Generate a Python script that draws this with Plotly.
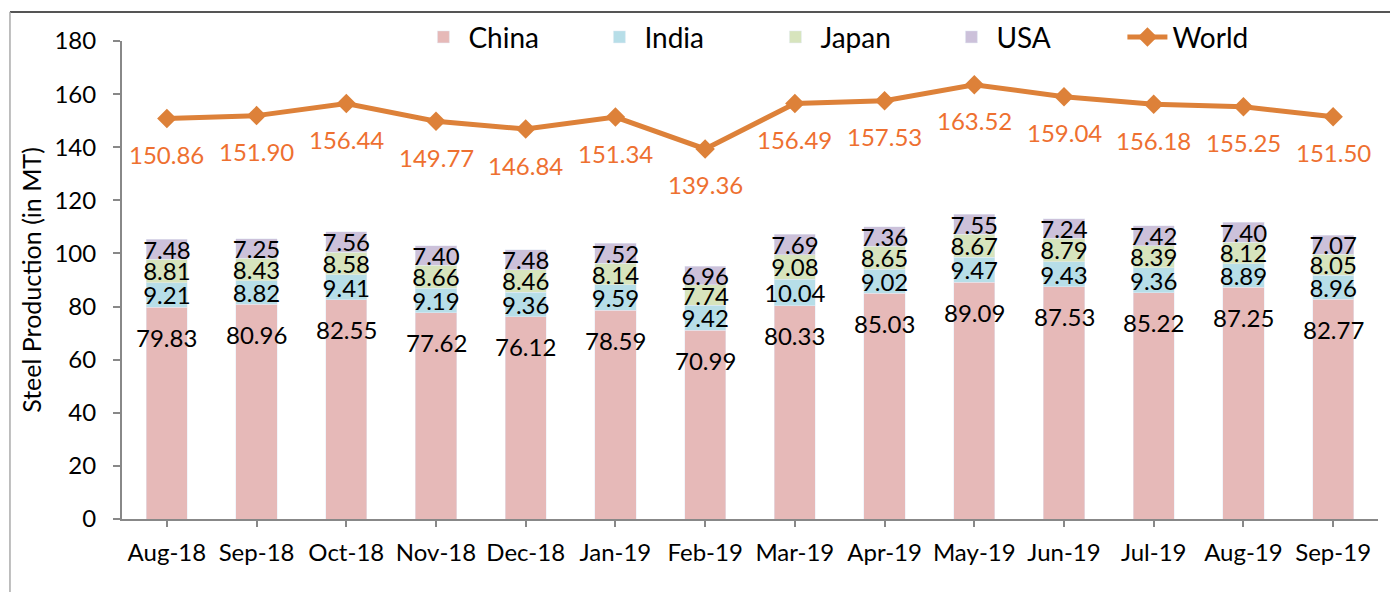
import plotly.graph_objects as go

# --- data ---
months = ["Aug-18", "Sep-18", "Oct-18", "Nov-18", "Dec-18", "Jan-19", "Feb-19",
          "Mar-19", "Apr-19", "May-19", "Jun-19", "Jul-19", "Aug-19", "Sep-19"]
china = [79.83, 80.96, 82.55, 77.62, 76.12, 78.59, 70.99, 80.33, 85.03, 89.09, 87.53, 85.22, 87.25, 82.77]
india = [9.21, 8.82, 9.41, 9.19, 9.36, 9.59, 9.42, 10.04, 9.02, 9.47, 9.43, 9.36, 8.89, 8.96]
japan = [8.81, 8.43, 8.58, 8.66, 8.46, 8.14, 7.74, 9.08, 8.65, 8.67, 8.79, 8.39, 8.12, 8.05]
usa = [7.48, 7.25, 7.56, 7.40, 7.48, 7.52, 6.96, 7.69, 7.36, 7.55, 7.24, 7.42, 7.40, 7.07]
world = [150.86, 151.90, 156.44, 149.77, 146.84, 151.34, 139.36, 156.49, 157.53, 163.52, 159.04, 156.18, 155.25, 151.50]

COLORS = {"China": "#E6B9B8", "India": "#B7DEE8", "Japan": "#D7E4BD",
          "USA": "#CCC1DA", "line": "#DD8139", "label": "#EE7030", "axis": "#888888"}
FONT = "Lato, Calibri, sans-serif"

fig = go.Figure()

# china labels sit near the top of the bar, so they go in as annotations below
fig.add_trace(go.Bar(x=months, y=china, name="China", marker_color=COLORS["China"]))
for name, vals in [("India", india), ("Japan", japan), ("USA", usa)]:
    fig.add_trace(go.Bar(
        x=months, y=vals, name=name, marker_color=COLORS[name],
        text=[f"{v:.2f}" for v in vals], textposition="inside", insidetextanchor="middle",
        constraintext="none", textangle=0, cliponaxis=False,
        textfont=dict(size=24, color="black", family=FONT)))

fig.add_trace(go.Scatter(
    x=months, y=world, name="World", mode="lines+markers",
    line=dict(color=COLORS["line"], width=5),
    marker=dict(symbol="diamond", size=15, color=COLORS["line"])))

for m, c in zip(months, china):
    fig.add_annotation(x=m, y=c, text=f"{c:.2f}", showarrow=False, yshift=-30,
                       font=dict(size=24, color="black", family=FONT))
for m, w in zip(months, world):
    fig.add_annotation(x=m, y=w, text=f"{w:.2f}", showarrow=False, yshift=-36,
                       font=dict(size=24, color=COLORS["label"], family=FONT))

# outer frame (top + left edges visible in the crop)
fig.add_shape(type="line", xref="paper", yref="paper", x0=-0.0892, x1=1.1, y0=1.0607, y1=1.0607,
              line=dict(color="#555555", width=2))
fig.add_shape(type="line", xref="paper", yref="paper", x0=-0.0892, x1=-0.0892, y0=-0.3, y1=1.0607,
              line=dict(color="#aaaaaa", width=1.5))

# page body adds 8px, margins are offset for that
fig.update_layout(
    barmode="stack", bargap=0.54,
    width=1398, height=592,
    margin=dict(l=114, r=28, t=33, b=81, autoexpand=False),
    paper_bgcolor="white", plot_bgcolor="white",
    font=dict(family=FONT, color="black", size=24),
    legend=dict(orientation="h", x=0.236, y=1.008, xanchor="left", yanchor="middle",
                font=dict(size=28), entrywidth=121, itemwidth=40,
                bgcolor="rgba(0,0,0,0)", traceorder="normal"),
    xaxis=dict(type="category", range=[-0.5, 13.5], showline=True, linecolor=COLORS["axis"],
               linewidth=2, ticks="outside", ticklen=6, tickcolor=COLORS["axis"], tickwidth=2,
               ticklabelstandoff=5, showgrid=False, tickfont=dict(size=24), automargin=False),
    yaxis=dict(range=[0, 180], dtick=20, showline=True, linecolor=COLORS["axis"], linewidth=2,
               ticks="outside", ticklen=7, tickcolor=COLORS["axis"], tickwidth=2,
               ticklabelstandoff=12, showgrid=False, zeroline=False, tickfont=dict(size=24),
               automargin=False,
               title=dict(text="Steel Production (in MT)", font=dict(size=25), standoff=6)),
)

fig.write_html("out.html")
